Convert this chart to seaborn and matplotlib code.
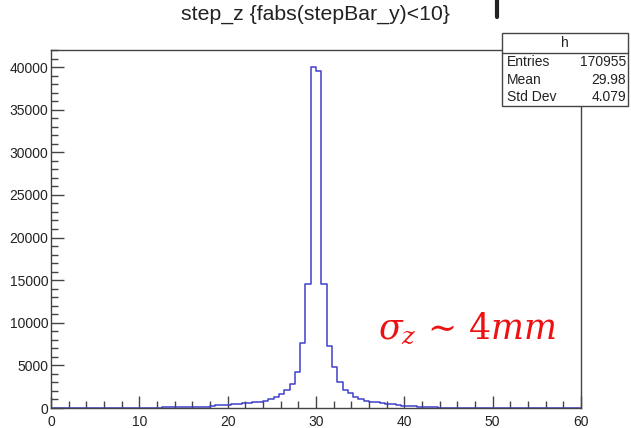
import numpy as np
import pandas as pd
import matplotlib
matplotlib.use("Agg")
import matplotlib.pyplot as plt
import seaborn as sns
from matplotlib.ticker import MultipleLocator

# ---- data ----
bin_width = 0.6
bin_starts = [9.6, 10.2, 10.8, 11.4, 12.0, 12.6, 13.2, 13.8, 14.4, 15.0, 15.6, 16.2, 16.8,
              17.4, 18.0, 18.6, 19.2, 19.8, 20.4, 21.0, 21.6, 22.2, 22.8, 23.4, 24.0,
              24.6, 25.2, 25.8, 26.4, 27.0, 27.6, 28.2, 28.8, 29.4, 30.0, 30.6, 31.2,
              31.8, 32.4, 33.0, 33.6, 34.2, 34.8, 35.4, 36.0, 36.6, 37.2, 37.8, 38.4,
              39.0, 39.6, 40.2, 40.8, 41.4, 42.0, 42.6, 43.2, 43.8, 44.4, 45.0, 45.6,
              46.2, 46.8, 47.4, 48.0, 48.6, 49.2, 49.8, 50.4, 51.0, 51.6]
counts = [20, 10, 40, 50, 50, 60, 60, 70, 70, 120, 140, 90, 90,
          120, 250, 300, 330, 380, 430, 480, 540, 600, 680, 760, 860,
          1000, 1250, 1700, 2100, 2850, 4200, 7600, 14600, 40000, 39500, 14500, 7300,
          4800, 3000, 2100, 1750, 1300, 1100, 850, 750, 650, 560, 480, 420,
          350, 290, 240, 190, 150, 110, 80, 60, 40, 30, 30, 25,
          25, 20, 20, 20, 20, 10, 0, 0, 30, 30]

title = "step_z {fabs(stepBar_y)<10}"
stats_name = "h"
stats_labels = ["Entries", "Mean", "Std Dev"]
stats_values = ["170955", "29.98", "4.079"]
annotation = r"$\sigma_z\,{\sim}\,4mm$"

x_min, x_max = 0, 60
y_min, y_max = 0, 42000

# ---- figure ----
sns.set_style("white")
plt.rcParams["font.family"] = ["Liberation Sans", "DejaVu Sans"]
plt.rcParams["mathtext.fontset"] = "stix"

fig = plt.figure(figsize=(6.31, 4.28), dpi=100)
ax = fig.add_axes([51 / 631, 20 / 428, 530 / 631, 358 / 428])

df = pd.DataFrame({"x": np.array(bin_starts) + bin_width / 2, "w": counts})
sns.histplot(data=df, x="x", weights="w", binwidth=bin_width, binrange=(x_min, x_max),
             element="step", fill=False, color="#4040cc", linewidth=1.1, ax=ax)

ax.set_xlim(x_min, x_max)
ax.set_ylim(y_min, y_max)
ax.set_xlabel("")
ax.set_ylabel("")

ax.xaxis.set_major_locator(MultipleLocator(10))
ax.xaxis.set_minor_locator(MultipleLocator(2))
ax.yaxis.set_major_locator(MultipleLocator(5000))
ax.yaxis.set_minor_locator(MultipleLocator(1000))
ax.tick_params(axis="both", which="both", bottom=True, left=True, top=False, right=False)
ax.tick_params(axis="both", which="major", direction="in", length=9, width=1,
               color="#444444", labelsize=10, labelcolor="#222222")
ax.tick_params(axis="both", which="minor", direction="in", length=5, width=1,
               color="#444444")
ax.tick_params(axis="x", pad=5)
ax.tick_params(axis="y", pad=2)
for s in ax.spines.values():
    s.set_color("#444444")
    s.set_linewidth(1)
    s.set_visible(True)

fig.text(315 / 631, 1 - 14 / 428, title, ha="center", va="center", fontsize=15.3,
         color="#222222")

# annotation
ax.text(0.617, 0.22, annotation, transform=ax.transAxes, fontsize=25,
        color="#ee1111", ha="left", va="center", math_fontfamily="dejavuserif")

# stats box
bx0, bx1 = 502 / 631, 628 / 631
by_top, by_head, by_bot = 1 - 33 / 428, 1 - 53 / 428, 1 - 106 / 428
rect = plt.Rectangle((bx0, by_bot), bx1 - bx0, by_top - by_bot, transform=fig.transFigure,
                     facecolor="white", edgecolor="#444444", linewidth=1, zorder=5)
fig.patches.append(rect)
fig.add_artist(plt.Line2D([bx0, bx1], [by_head, by_head], transform=fig.transFigure,
                          color="#444444", linewidth=1, zorder=6))
fig.text((bx0 + bx1) / 2, (by_top + by_head) / 2, stats_name, ha="center", va="center",
         fontsize=10, color="#222222", zorder=7)
row_ys = [62, 80, 97]
for lab, val, ry in zip(stats_labels, stats_values, row_ys):
    fig.text(bx0 + 5 / 631, 1 - ry / 428, lab, ha="left", va="center", fontsize=10,
             color="#222222", zorder=7)
    fig.text(bx1 - 2 / 631, 1 - ry / 428, val, ha="right", va="center", fontsize=10,
             color="#222222", zorder=7)

# small dark mark at top (artifact in the original)
fig.add_artist(plt.Line2D([497 / 631, 497 / 631], [1.0, 1 - 17 / 428],
                          transform=fig.transFigure, color="#222222", linewidth=3))

fig.savefig("out.png", dpi=100)
